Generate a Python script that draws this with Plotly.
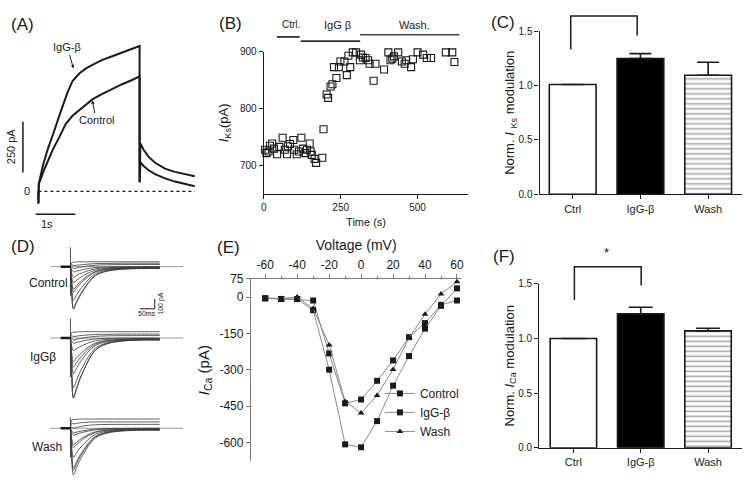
import plotly.graph_objects as go

W, H = 749, 492
def px(x):
    return x / W
def py(y):
    return 1 - y / H

FONT = "Liberation Sans, Arial, sans-serif"
INK = "#1a1a1a"

# ---------------- Panel A: IKs traces ----------------
A_T_IGG = [0, 0, 0.01, 0.11, 0.23, 0.36, 0.48, 0.61, 0.73, 0.86, 1.03, 1.19, 1.36, 1.61, 1.86, 2.11, 2.36, 2.52,
           2.55, 2.55, 2.57, 2.65, 2.78, 2.94, 3.19, 3.44, 3.69, 3.94]
A_I_IGG = [0, -60, 37, 125, 205, 277, 349, 421, 486, 545, 582, 606, 625, 649, 667, 686, 702, 715,
           718, 45, 237, 205, 170, 141, 112, 96, 85, 74]
A_T_CTL = [0, 0, 0.01, 0.15, 0.36, 0.53, 0.69, 0.86, 1.03, 1.19, 1.36, 1.61, 1.86, 2.11, 2.36, 2.52,
           2.55, 2.55, 2.57, 2.65, 2.78, 2.94, 3.19, 3.44, 3.69, 3.94]
A_I_CTL = [0, -60, 37, 109, 205, 269, 333, 373, 401, 430, 454, 481, 506, 529, 550, 566,
           568, 45, 144, 125, 104, 85, 64, 48, 37, 25]

# ---------------- Panel B: IKs time course ----------------
B_TIME = [4, 8, 15, 20, 27, 33, 43, 50, 61, 68, 75, 78, 85, 96, 99, 107, 114, 122, 128, 135, 140, 149, 152,
          156, 165, 170, 190, 194,
          204, 209, 217, 223, 228, 236, 244, 249, 262, 270, 275, 281, 289, 300, 312, 316, 322, 331, 339, 344,
          357, 363, 391, 405, 412, 418, 423, 437, 449, 458, 463, 479, 485, 500, 518, 530, 544, 592, 613, 620]
B_IKS = [728, 722, 725, 735, 739, 730, 720, 733, 749, 728, 720, 734, 738, 745, 728, 720, 725, 749, 730, 722, 728, 739, 725,
         719, 712, 705, 714, 764,
         825, 819, 839, 843, 873, 854, 873, 883, 883, 859, 893, 873, 899, 899, 885, 895, 890, 889, 885, 879,
         849, 879, 869, 899, 885, 888, 892, 899, 883, 879, 885, 873, 887, 899, 895, 889, 889, 899, 899, 882]

# ---------------- Panel C: normalized IKs ----------------
C_LABELS = ["Ctrl", "IgG-β", "Wash"]
C_VALUES = [1.01, 1.25, 1.095]
C_ERR = [0.0, 0.045, 0.12]

# ---------------- Panel D: ICa families ----------------
D_T = [0, 4, 10, 20, 30, 45, 60, 85, 120, 170, 240, 300]
D_CTRL = [
    [0, -271, -438, -375, -313, -237, -170, -91, -49, -28, -20, -20],
    [0, -260, -422, -361, -301, -228, -163, -87, -46, -26, -18, -18],
    [0, -213, -345, -296, -246, -187, -134, -71, -38, -22, -15, -15],
    [0, -161, -261, -224, -186, -141, -102, -54, -29, -17, -12, -12],
    [0, -143, -232, -199, -165, -125, -90, -48, -26, -14, -10, -10],
    [0, -102, -165, -141, -118, -90, -65, -35, -19, -11, -8, -8],
    [0, -66, -107, -92, -76, -58, -42, -22, -12, -7, -5, -5],
    [0, -32, -54, -46, -38, -28, -19, -9, -4, -1, 0, 0],
    [0, -3, -20, -14, -7, 0, 7, 15, 19, 21, 22, 22],
    [0, 20, 10, 14, 18, 22, 26, 31, 33, 35, 35, 35],
    [0, 40, 45, 48, 50, 50, 50, 50, 50, 50, 50, 50],
]
D_IGG = [
    [0, -379, -619, -529, -439, -331, -236, -122, -62, -32, -20, -20],
    [0, -372, -607, -519, -431, -325, -231, -120, -61, -32, -20, -20],
    [0, -314, -511, -437, -363, -274, -195, -102, -53, -28, -18, -18],
    [0, -225, -365, -313, -260, -197, -141, -75, -40, -22, -15, -15],
    [0, -184, -299, -256, -213, -161, -115, -61, -32, -18, -12, -12],
    [0, -150, -243, -208, -173, -131, -94, -50, -26, -15, -10, -10],
    [0, -80, -130, -111, -93, -70, -51, -27, -15, -8, -6, -6],
    [0, -32, -54, -46, -38, -28, -19, -9, -4, -1, 0, 0],
    [0, -3, -20, -13, -6, 2, 9, 17, 22, 24, 25, 25],
    [0, 25, 15, 19, 24, 28, 32, 36, 38, 40, 40, 40],
    [0, 55, 60, 62, 64, 65, 65, 65, 65, 65, 65, 65],
]
D_WASH = [
    [0, -295, -478, -409, -341, -258, -185, -98, -52, -29, -20, -20],
    [0, -265, -430, -368, -306, -232, -166, -88, -47, -26, -18, -18],
    [0, -249, -405, -347, -288, -218, -155, -81, -42, -23, -15, -15],
    [0, -184, -298, -255, -212, -161, -115, -61, -32, -18, -12, -12],
    [0, -122, -197, -169, -141, -107, -77, -42, -23, -14, -10, -10],
    [0, -104, -168, -144, -120, -91, -66, -35, -19, -11, -8, -8],
    [0, -45, -71, -61, -51, -39, -29, -16, -10, -6, -5, -5],
    [0, -28, -47, -40, -33, -24, -17, -8, -3, -1, 0, 0],
    [0, 10, 0, 8, 16, 24, 30, 36, 39, 40, 40, 40],
    [0, 50, 45, 50, 55, 60, 63, 65, 65, 65, 65, 65],
    [0, 85, 90, 92, 94, 95, 95, 95, 95, 95, 95, 95],
]
D_SPIKE_T = [0, 0]
D_CTRL_SPIKE = [200, -300]
D_IGG_SPIKE = [200, -400]
D_WASH_SPIKE = [110, -300]
D_HOLD_T = [-33, 0]
D_HOLD_I = [0, 0]

# ---------------- Panel E: I-V ----------------
E_V = [-60, -50, -40, -30, -20, -10, 0, 10, 20, 30, 40, 50, 60]
E_CTRL = [-5, -8, -8, -14, -232, -438, -422, -345, -261, -165, -107, -32, -14]
E_IGG = [-5, -8, -8, -54, -299, -607, -619, -511, -365, -243, -130, -36, 36]
E_WASH = [-3, -6, 0, -47, -197, -430, -478, -405, -298, -168, -71, 13, 63]
E_XTICKS = [-60, -40, -20, 0, 20, 40, 60]
E_YTICKS = [75, 0, -150, -300, -450, -600]

# ---------------- Panel F: normalized ICa ----------------
F_LABELS = ["Ctrl", "IgG-β", "Wash"]
F_VALUES = [1.0, 1.226, 1.069]
F_ERR = [0.0, 0.06, 0.024]

fig = go.Figure()

# A
fig.add_trace(go.Scatter(x=A_T_IGG, y=A_I_IGG, mode="lines", line=dict(color=INK, width=2),
                         xaxis="x", yaxis="y", showlegend=False, hoverinfo="skip"))
fig.add_trace(go.Scatter(x=A_T_CTL, y=A_I_CTL, mode="lines", line=dict(color=INK, width=2),
                         xaxis="x", yaxis="y", showlegend=False, hoverinfo="skip"))

# B
fig.add_trace(go.Scatter(x=B_TIME, y=B_IKS, mode="markers", cliponaxis=False,
                         marker=dict(symbol="square-open", size=7, color=INK, line=dict(width=1.1)),
                         xaxis="x2", yaxis="y2", showlegend=False))

# C
fig.add_trace(go.Bar(x=C_LABELS, y=C_VALUES, width=0.69, xaxis="x3", yaxis="y3", showlegend=False,
                     marker=dict(color=["white", "black", "white"],
                                 line=dict(color=INK, width=1.6),
                                 pattern=dict(shape=["", "", "-"], fgcolor=INK, bgcolor="white",
                                              size=5, solidity=0.3)),
                     error_y=dict(type="data", array=C_ERR, arrayminus=[0, 0, 0], symmetric=False,
                                  color=INK, thickness=1.6, width=11)))

# D
for rows, spike, ax in [(D_CTRL, D_CTRL_SPIKE, "4"), (D_IGG, D_IGG_SPIKE, "5"), (D_WASH, D_WASH_SPIKE, "6")]:
    for r in rows:
        fig.add_trace(go.Scatter(x=D_T, y=r, mode="lines", line=dict(color="#3a3a3a", width=0.8, shape="spline"),
                                 xaxis="x" + ax, yaxis="y" + ax, showlegend=False, hoverinfo="skip"))
    fig.add_trace(go.Scatter(x=D_SPIKE_T, y=spike, mode="lines", line=dict(color="#3a3a3a", width=0.9),
                             xaxis="x" + ax, yaxis="y" + ax, showlegend=False, hoverinfo="skip"))
    fig.add_trace(go.Scatter(x=D_HOLD_T, y=D_HOLD_I, mode="lines", line=dict(color=INK, width=2.5),
                             xaxis="x" + ax, yaxis="y" + ax, showlegend=False, hoverinfo="skip"))

# E
for name, vals, sym in [("Control", E_CTRL, "square"), ("IgG-β", E_IGG, "square"), ("Wash", E_WASH, "triangle-up")]:
    fig.add_trace(go.Scatter(x=E_V, y=vals, name=name, mode="lines+markers", cliponaxis=False,
                             line=dict(color="#8a8a8a", width=1),
                             marker=dict(symbol=sym, size=6, color=INK),
                             xaxis="x7", yaxis="y7", showlegend=True))

# F
fig.add_trace(go.Bar(x=F_LABELS, y=F_VALUES, width=0.69, xaxis="x8", yaxis="y8", showlegend=False,
                     marker=dict(color=["white", "black", "white"],
                                 line=dict(color=INK, width=1.6),
                                 pattern=dict(shape=["", "", "-"], fgcolor=INK, bgcolor="white",
                                              size=5, solidity=0.3)),
                     error_y=dict(type="data", array=F_ERR, arrayminus=[0, 0, 0], symmetric=False,
                                  color=INK, thickness=1.6, width=12)))

hidden = dict(visible=False, showgrid=False, zeroline=False)
axis_common = dict(showgrid=False, zeroline=False, showline=True, linecolor=INK, linewidth=1.4,
                   ticks="outside", ticklen=4, tickcolor=INK, tickwidth=1.2,
                   tickfont=dict(size=10, color=INK, family=FONT))
bar_x_common = dict(axis_common)
bar_x_common["tickfont"] = dict(size=11, color=INK, family=FONT)

D_XR = [-93.3, 406.7]

fig.update_layout(
    width=W, height=H, autosize=False,
    margin=dict(l=0, r=0, t=0, b=0),
    paper_bgcolor="white", plot_bgcolor="white",
    font=dict(family=FONT, color=INK, size=11),
    xaxis=dict(domain=[px(15), px(200)], range=[-0.5175, 4.1075], anchor="y", **hidden),
    yaxis=dict(domain=[py(215), py(30)], range=[-123.6, 766.2], anchor="x", **hidden),
    xaxis2=dict(domain=[px(263), px(469)], range=[0, 665], anchor="y2", tickvals=[0, 250, 500],
                title=dict(text="Time (s)", font=dict(size=11), standoff=6), **axis_common),
    yaxis2=dict(domain=[py(192), py(46)], range=[650.4, 900], anchor="x2", tickvals=[700, 800, 900],
                title=dict(text="<i>I</i><sub>Ks</sub>(pA)", font=dict(size=13), standoff=8), **axis_common),
    xaxis3=dict(domain=[px(541), px(745)], range=[-0.4875, 2.5], anchor="y3", type="category",
                **bar_x_common),
    yaxis3=dict(domain=[py(192.3), py(25)], range=[0, 1.5], anchor="x3", tickvals=[0, 0.5, 1, 1.5],
                tickformat=".1f",
                title=dict(text="Norm. <i>I</i> <sub>Ks</sub> modulation", font=dict(size=13), standoff=0),
                **axis_common),
    xaxis4=dict(domain=[px(40), px(190)], range=D_XR, anchor="y4", **hidden),
    yaxis4=dict(domain=[py(315), py(240)], range=[-483, 267], anchor="x4", **hidden),
    xaxis5=dict(domain=[px(40), px(190)], range=D_XR, anchor="y5", **hidden),
    yaxis5=dict(domain=[py(410), py(318)], range=[-700, 220], anchor="x5", **hidden),
    xaxis6=dict(domain=[px(40), px(190)], range=D_XR, anchor="y6", **hidden),
    yaxis6=dict(domain=[py(490), py(412)], range=[-573, 207], anchor="x6", **hidden),
    xaxis7=dict(domain=[px(250), px(462)], range=[-68.9, 62.7], anchor="y7", side="top",
                tickvals=E_XTICKS, ticktext=[str(v) for v in E_XTICKS],
                minor=dict(dtick=10, ticks="outside", ticklen=2, tickcolor="#777"),
                title=dict(text="Voltage (mV)", font=dict(size=14), standoff=4),
                showgrid=False, zeroline=False, showline=True, linecolor="#777", linewidth=1.2,
                ticks="outside", ticklen=4, tickcolor="#777", tickfont=dict(size=12, color=INK)),
    yaxis7=dict(domain=[py(466.7), py(279.3)], range=[-677, 75], anchor="x7",
                tickvals=E_YTICKS, ticktext=[str(v) for v in E_YTICKS],
                title=dict(text="<i>I</i><sub>Ca</sub> (pA)", font=dict(size=15), standoff=6),
                showgrid=False, zeroline=False, showline=True, linecolor="#777", linewidth=1.2,
                ticks="outside", ticklen=4, tickcolor="#777", tickfont=dict(size=12, color=INK)),
    xaxis8=dict(domain=[px(540.7), px(745)], range=[-0.5055, 2.505], anchor="y8", type="category",
                **bar_x_common),
    yaxis8=dict(domain=[py(452.7), py(284.3)], range=[0, 1.5], anchor="x8", tickvals=[0, 0.5, 1, 1.5],
                tickformat=".1f",
                title=dict(text="Norm. <i>I</i><sub>Ca</sub> modulation", font=dict(size=13), standoff=0),
                **axis_common),
    legend=dict(x=px(380), y=py(382), xanchor="left", yanchor="top", bgcolor="rgba(0,0,0,0)",
                font=dict(size=12), itemwidth=30, tracegroupgap=0),
)

shapes = []
shapes.append(dict(type="line", xref="x", yref="y", x0=0, x1=3.94, y0=0, y1=0,
                   line=dict(color=INK, width=1.2, dash="dot")))
shapes.append(dict(type="line", xref="x", yref="y", x0=-0.07, x1=0.93, y0=-113, y1=-113,
                   line=dict(color=INK, width=1.5)))
shapes.append(dict(type="line", xref="x", yref="y", x0=-0.39, x1=-0.39, y0=93, y1=343,
                   line=dict(color=INK, width=1.5)))
shapes.append(dict(type="line", xref="paper", yref="paper", x0=px(276), x1=px(299), y0=py(30.7), y1=py(30.7),
                   line=dict(color="#333", width=1.8)))
shapes.append(dict(type="line", xref="paper", yref="paper", x0=px(300), x1=px(360), y0=py(35), y1=py(35),
                   line=dict(color="#333", width=1.8)))
shapes.append(dict(type="line", xref="paper", yref="paper", x0=px(360), x1=px(460), y0=py(28.5), y1=py(28.5),
                   line=dict(color="#444", width=1.6)))
shapes.append(dict(type="path", xref="paper", yref="paper",
                   path=f"M {px(572.3)} {py(43.3)} L {px(572.3)} {py(9.3)} L {px(639.3)} {py(9.3)} L {px(639.3)} {py(29.3)}",
                   line=dict(color=INK, width=1.5)))
shapes.append(dict(type="path", xref="paper", yref="paper",
                   path=f"M {px(576)} {py(301)} L {px(576)} {py(266.7)} L {px(643.3)} {py(266.7)} L {px(643.3)} {py(286)}",
                   line=dict(color=INK, width=1.5)))
for ax in ["4", "5", "6"]:
    shapes.append(dict(type="line", xref="x" + ax, yref="y" + ax, x0=-67, x1=379, y0=0, y1=0,
                       line=dict(color="#9a9a9a", width=1), layer="below"))
shapes.append(dict(type="line", xref="x4", yref="y4", x0=233, x1=283.3, y0=-433, y1=-433,
                   line=dict(color=INK, width=1)))
shapes.append(dict(type="line", xref="x4", yref="y4", x0=283.3, x1=283.3, y0=-433, y1=-333,
                   line=dict(color=INK, width=1)))
fig.update_layout(shapes=shapes)

ann = []
def label(text, x, y, size=11, **kw):
    ann.append(dict(text=text, x=px(x), y=py(y), xref="paper", yref="paper", showarrow=False,
                    xanchor="center", yanchor="middle", font=dict(size=size, family=FONT, color=INK), **kw))

for t, x, y in [("(A)", 20, 18), ("(B)", 229, 17), ("(C)", 504, 16), ("(D)", 20, 246), ("(E)", 227, 247),
                ("(F)", 505, 256)]:
    label(t, x, y, size=17)

ann.append(dict(text="IgG-β", x=px(71), y=py(63), xref="paper", yref="paper", ax=-6, ay=-21,
                showarrow=True, arrowhead=2, arrowsize=0.7, arrowwidth=1, arrowcolor=INK,
                font=dict(size=11, family=FONT, color=INK)))
ann.append(dict(text="Control", x=px(90), y=py(96), xref="paper", yref="paper", ax=4, ay=20,
                showarrow=True, arrowhead=2, arrowsize=0.7, arrowwidth=1, arrowcolor=INK,
                font=dict(size=11, family=FONT, color=INK)))
label("0", 24, 189, size=11)
label("250 pA", 8, 143, size=11, textangle=-90)
label("1s", 44, 223, size=11)

label("Ctrl.", 290, 18, size=10)
label("IgG β", 337, 18, size=11)
label("Wash.", 415, 19, size=11)

label("Control", 46, 283, size=12)
label("IgGβ", 40, 359, size=12)
label("Wash", 44, 452, size=12)
label("50ms", 145, 315, size=7)
label("100 pA", 159, 304, size=7, textangle=-90)

label("*", 608, 252, size=13)

fig.update_layout(annotations=ann)

fig.write_html("out.html", config={"displayModeBar": False},
               post_script="document.body.style.margin='0px';document.body.style.padding='0px';")
